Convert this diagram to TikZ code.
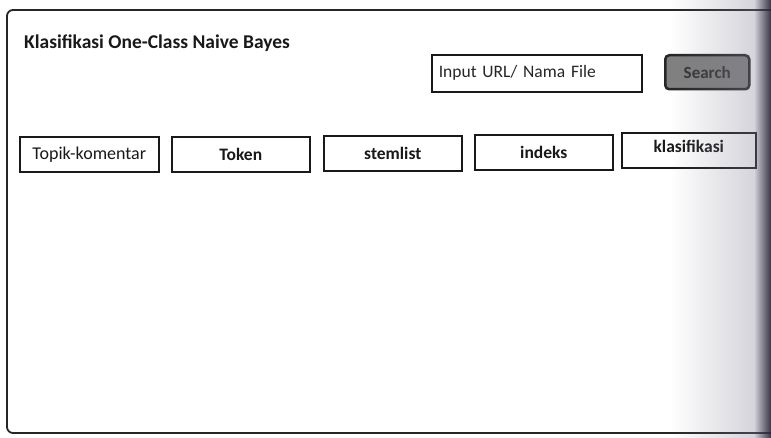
\documentclass[tikz,border=0pt]{standalone}
\usepackage{fontspec}
\setmainfont{Carlito}
\usetikzlibrary{fadings}
\tikzfading[name=fade right, left color=transparent!100, right color=transparent!0]
\definecolor{edgeshade}{RGB}{130,128,150}
\definecolor{edgedark}{RGB}{40,38,55}
\begin{document}
\begin{tikzpicture}[x=1pt,y=-1pt,
  tab/.style={draw=black!90, line width=1.6pt, minimum height=35pt, inner sep=0pt,
    font=\fontsize{17.5}{20}\selectfont\bfseries, text=black!90},
  field/.style={draw=black!90, line width=1.6pt, inner sep=0pt,
    font=\fontsize{17.5}{20}\selectfont, text=black!85}]
\useasboundingbox (0,0) rectangle (771,438);
\fill[white] (0,0) rectangle (771,438);
% window frame
\draw[black!85, line width=1.8pt, rounded corners=6pt] (7,10) rectangle (790,433);
% title
\node[anchor=base west, inner sep=0pt, font=\fontsize{19.5}{23}\selectfont\bfseries, text=black!90]
  (title) at (24,49) {Klasifikasi One-Class Naive Bayes};
% input field and search button
\node[field, minimum width=210pt, minimum height=37pt, anchor=north west,
  text width=196pt, align=left] (input) at (431,54) {Input URL/ Nama File};
\node[anchor=north west, minimum width=84pt, minimum height=34pt, inner sep=0pt,
  draw=black!85, line width=2.5pt, fill=black!50, rounded corners=4pt,
  font=\fontsize{17}{20}\selectfont\bfseries, text=black!80] (search) at (664,54) {Search};
% tab buttons
\node[tab, minimum width=139pt, anchor=north west, font=\fontsize{18}{20}\selectfont]
  (topik) at (19,136) {Topik-komentar};
\node[tab, minimum width=138pt, anchor=north west] (token) at (171,136) {Token};
\node[tab, minimum width=138pt, anchor=north west] (stem) at (323,135) {stemlist};
\node[tab, minimum width=138pt, anchor=north west] (indeks) at (474,134) {indeks};
\node[tab, minimum width=134pt, anchor=north west, text depth=7pt] (klas) at (621,132) {klasifikasi};
% shadow along the right edge
\fill[edgeshade, path fading=fade right, opacity=0.4] (670,0) rectangle (771,438);
\fill[edgedark, path fading=fade right, opacity=0.9] (754,0) rectangle (771,438);
\end{tikzpicture}
\end{document}
